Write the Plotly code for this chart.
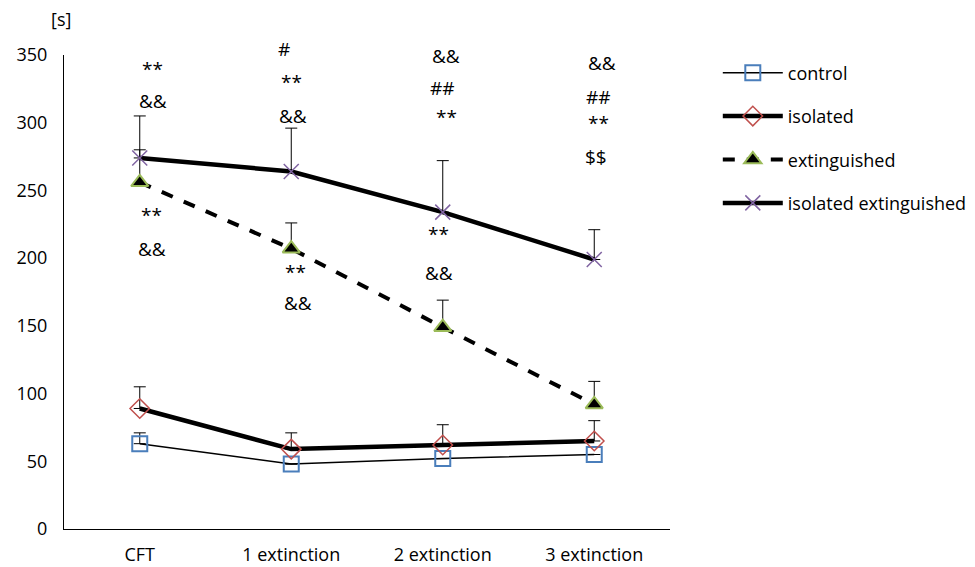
import plotly.graph_objects as go

categories = ["CFT", "1 extinction", "2 extinction", "3 extinction"]
control = [63, 48, 52, 55]
control_err = [8, 0, 0, 0]
isolated = [89, 59, 62, 65]
isolated_err = [16, 12, 15, 15]
extinguished = [256, 207, 149, 92]
extinguished_err = [24, 19, 20, 17]
iso_ext = [274, 264, 234, 199]
iso_ext_err = [31, 32, 38, 22]

# significance labels: (category index, y value, text, x shift px, y shift px)
sig_labels = [
    (0, 340, "**", 13, 0), (0, 316, "&&", 13, 0), (0, 232, "**", 12, 0), (0, 207, "&&", 12, 0),
    (1, 350, "#", -7, 6), (1, 330, "**", 0, 0), (1, 305, "&&", 2, 0), (1, 190, "**", 4, 0), (1, 167, "&&", 7, 0),
    (2, 349, "&&", 3, 0), (2, 326, "##", 0, 0), (2, 304, "**", 4, 0), (2, 218, "**", -4, 0), (2, 189, "&&", -4, 0),
    (3, 344, "&&", 8, 0), (3, 319, "##", 4, 0), (3, 300, "**", 4, 0), (3, 275, "$$", 2, 0),
]

FONT = "Open Sans, Lato, sans-serif"

def eb(vals):
    return dict(type="data", array=vals, arrayminus=[0] * len(vals), symmetric=False,
                color="black", thickness=1, width=6, visible=True)

fig = go.Figure()
fig.add_trace(go.Scatter(x=categories, y=control, name="control", mode="lines+markers",
                         legendgroup="a",
                         line=dict(color="black", width=1.5),
                         marker=dict(symbol="square-open", size=15, color="#4a7ebb", line=dict(width=2)),
                         error_y=eb(control_err)))
fig.add_trace(go.Scatter(x=categories, y=isolated, name="isolated", mode="lines+markers",
                         legendgroup="b",
                         line=dict(color="black", width=4.5),
                         marker=dict(symbol="diamond-open", size=15, color="#c0504d", line=dict(width=1.5)),
                         error_y=eb(isolated_err)))
fig.add_trace(go.Scatter(x=categories, y=extinguished, name="extinguished", mode="lines+markers",
                         legendgroup="c",
                         line=dict(color="black", width=4, dash="dash"),
                         marker=dict(symbol="triangle-up", size=15, color="black",
                                     line=dict(color="#9bbb59", width=2)),
                         error_y=eb(extinguished_err)))
fig.add_trace(go.Scatter(x=categories, y=iso_ext, name="isolated extinguished", mode="lines+markers",
                         legendgroup="d",
                         line=dict(color="black", width=4.5),
                         marker=dict(symbol="x-thin", size=15, color="#8064a2",
                                     line=dict(color="#8064a2", width=1.5)),
                         error_y=eb(iso_ext_err)))

annotations = []
for ci, yv, txt, xs, ys in sig_labels:
    annotations.append(dict(x=categories[ci], y=yv, text=txt, xref="x", yref="y", showarrow=False,
                            xshift=xs, yshift=ys, font=dict(size=19, color="black", family=FONT)))
annotations.append(dict(x=0, y=1, xref="paper", yref="paper", text="[s]", showarrow=False,
                        xanchor="center", yanchor="bottom", yshift=22, xshift=-3,
                        font=dict(size=18, color="black", family=FONT)))

fig.update_layout(
    width=975, height=567,
    margin=dict(l=56, r=313, t=47, b=46, autoexpand=False),
    plot_bgcolor="white", paper_bgcolor="white",
    font=dict(family=FONT, size=17, color="black"),
    showlegend=True,
    legend=dict(x=0.728, y=0.918, xref="container", yref="container",
                xanchor="left", yanchor="top", tracegroupgap=17,
                itemwidth=60, font=dict(size=18), traceorder="grouped"),
    annotations=annotations,
    xaxis=dict(range=[-0.5, 3.5], showline=True, linecolor="black", linewidth=1,
               showgrid=False, ticks="", zeroline=False, tickfont=dict(size=18),
               ticklabelstandoff=9),
    yaxis=dict(range=[0, 350], dtick=50, showline=True, linecolor="black", linewidth=1,
               showgrid=False, ticks="", zeroline=False, ticklabelstandoff=12,
               tickfont=dict(size=18)),
)

fig.write_html("out.html")
